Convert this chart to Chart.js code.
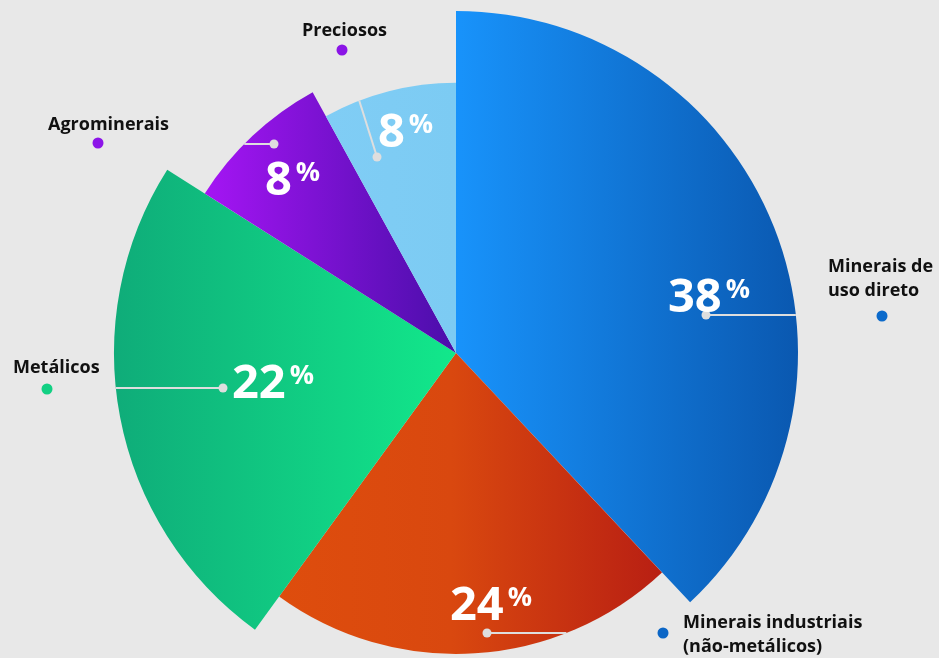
<!DOCTYPE html>
<html>
<head>
<meta charset="utf-8">
<script src="https://cdn.jsdelivr.net/npm/chart.js@4.4.0/dist/chart.umd.min.js"></script>
<style>
  html, body { margin: 0; background: #e8e8e8; }
  #wrap { width: 939px; height: 658px; position: relative; }
</style>
</head>
<body>
<div id="wrap"><canvas id="pie"></canvas></div>
<script>
// data
const categories = ["Minerais de uso direto", "Minerais industriais (não-metálicos)", "Metálicos", "Agrominerais", "Preciosos"];
const shares = [38, 22, 24, 8, 8];          // slice sizes as drawn
const shareLabels = ["38", "24", "22", "8", "8"]; // numbers printed on the slices
const reach = [100, 88, 100, 87, 79];       // outer radius of each slice, % of the largest

// styles
const shadeFrom = ["#1893fb", "#de4d0d", "#0fac79", "#a515f4", "#80cdf5"];
const shadeTo = ["#0a58b0", "#b81f13", "#12e88b", "#4a0eaa", "#7ccbf3"];
const nameDot = ["#0b6acb", "#0b66c6", "#12d083", "#8c14e8", "#8a14e6"];

// where the annotations sit
const numberSpots = [
  { x: 668, y: 312, dot: [706, 315], dir: 0 },
  { x: 450, y: 620, dot: [487, 633], dir: 0 },
  { x: 232, y: 398, dot: [223, 388], dir: Math.PI },
  { x: 265, y: 195, dot: [274, 144], dir: Math.PI },
  { x: 378, y: 147, dot: [377, 157], dir: Math.atan2(-54, -17) },
];
const nameSpots = [
  { x: 828, y: 272, lines: ["Minerais de", "uso direto"], dot: [882, 316] },
  { x: 683, y: 628, lines: ["Minerais industriais", "(não-metálicos)"], dot: [663, 633] },
  { x: 13, y: 373, lines: ["Metálicos"], dot: [47, 389] },
  { x: 48, y: 130, lines: ["Agrominerais"], dot: [98, 143] },
  { x: 302, y: 36, lines: ["Preciosos"], dot: [342, 50] },
];

const maxRadius = 342;
let shades = [];

const shapePlugin = {
  id: "shape",
  beforeDatasetsUpdate(chart) {
    const area = chart.chartArea;
    const cx = (area.left + area.right) / 2;
    const total = shares.reduce((a, b) => a + b, 0);
    let a0 = -Math.PI / 2;
    shades = shares.map((v, i) => {
      const a1 = a0 + (v / total) * Math.PI * 2;
      const r = maxRadius * reach[i] / 100;
      let lo = cx, hi = cx;
      for (let k = 0; k <= 60; k++) {
        const x = cx + r * Math.cos(a0 + (a1 - a0) * k / 60);
        lo = Math.min(lo, x); hi = Math.max(hi, x);
      }
      a0 = a1;
      const g = chart.ctx.createLinearGradient(lo, 0, hi, 0);
      g.addColorStop(0, shadeFrom[i]);
      if (i === 1) g.addColorStop(0.45, "#d9480f");
      g.addColorStop(1, shadeTo[i]);
      return g;
    });
  },
  afterDatasetsUpdate(chart) {
    chart.getDatasetMeta(0).data.forEach((arc, i) => {
      arc.outerRadius = maxRadius * reach[i] / 100;
    });
  },
};

function leaderEnd(arc, spot) {
  const ux = Math.cos(spot.dir), uy = Math.sin(spot.dir);
  const dx = spot.dot[0] - arc.x, dy = spot.dot[1] - arc.y;
  const b = dx * ux + dy * uy;
  const c = dx * dx + dy * dy - arc.outerRadius * arc.outerRadius;
  const t = -b + Math.sqrt(Math.max(b * b - c, 0));
  return [spot.dot[0] + ux * t, spot.dot[1] + uy * t];
}

const labelPlugin = {
  id: "labels",
  afterDraw(chart) {
    const ctx = chart.ctx;
    const arcs = chart.getDatasetMeta(0).data;
    ctx.save();
    numberSpots.forEach((s, i) => {
      const end = leaderEnd(arcs[i], s);
      ctx.strokeStyle = "#dedede";
      ctx.lineWidth = 2;
      ctx.beginPath();
      ctx.moveTo(s.dot[0], s.dot[1]);
      ctx.lineTo(end[0], end[1]);
      ctx.stroke();
      ctx.fillStyle = "#dedede";
      ctx.beginPath();
      ctx.arc(s.dot[0], s.dot[1], 4.5, 0, Math.PI * 2);
      ctx.fill();

      ctx.fillStyle = "#ffffff";
      ctx.textBaseline = "alphabetic";
      ctx.textAlign = "left";
      ctx.font = "700 47px 'Open Sans'";
      ctx.fillText(shareLabels[i], s.x, s.y);
      const w = ctx.measureText(shareLabels[i]).width;
      ctx.font = "700 27px 'Open Sans'";
      ctx.fillText("%", s.x + w + 4, s.y - 14);
    });
    nameSpots.forEach((s, i) => {
      ctx.fillStyle = "#111111";
      ctx.font = "700 18px 'Open Sans'";
      s.lines.forEach((t, k) => ctx.fillText(t, s.x, s.y + k * 24));
      ctx.fillStyle = nameDot[i];
      ctx.beginPath();
      ctx.arc(s.dot[0], s.dot[1], 5.5, 0, Math.PI * 2);
      ctx.fill();
    });
    ctx.restore();
  },
};

new Chart(document.getElementById("pie"), {
  type: "pie",
  data: {
    labels: categories,
    datasets: [{
      data: shares,
      backgroundColor: (c) => shades[c.dataIndex] || shadeFrom[c.dataIndex],
      borderWidth: 0,
    }],
  },
  options: {
    responsive: true,
    maintainAspectRatio: false,
    animation: false,
    events: [],
    radius: maxRadius,
    layout: { padding: { top: 48, right: 27, bottom: 0, left: 0 } },
    plugins: { legend: { display: false }, tooltip: { enabled: false } },
  },
  plugins: [shapePlugin, labelPlugin],
});
</script>
</body>
</html>
